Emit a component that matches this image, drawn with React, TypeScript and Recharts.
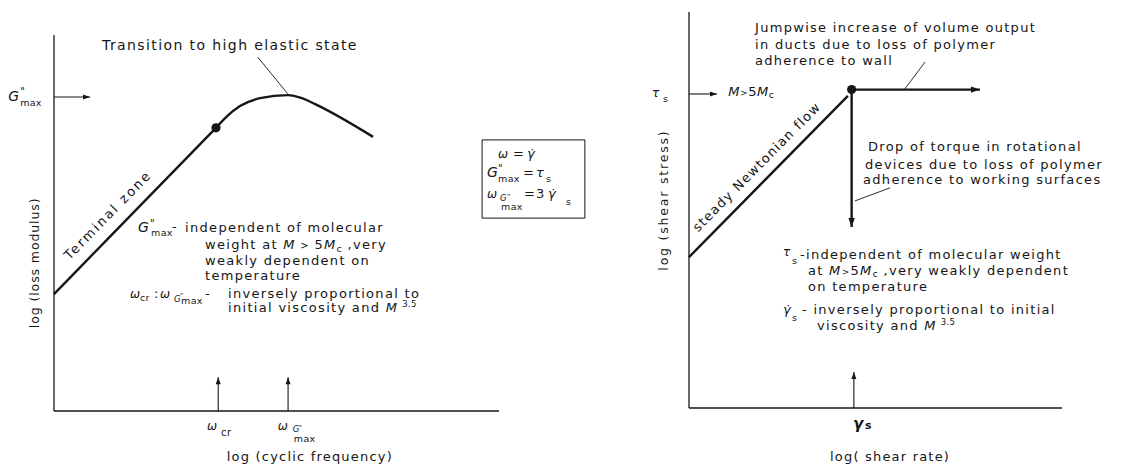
import React from 'react';
import { LineChart, Line, XAxis, YAxis, ReferenceLine, ReferenceDot, ReferenceArea } from 'recharts';

const INK = '#161616';
const FONT = '"DejaVu Sans", "Liberation Sans", sans-serif';
const GDOT = '\u03B3\u0307';

// Left panel: log(loss modulus) vs log(cyclic frequency), schematic units 0..100
const terminalZone = [
  { x: 0, y: 31.1 },
  { x: 36.4, y: 75.3 },
];
const transitionCurve = [
  { x: 36.4, y: 75.3 },
  { x: 38.8, y: 78.3 },
  { x: 41.8, y: 81.1 },
  { x: 46.3, y: 83.2 },
  { x: 52.6, y: 84.0 },
  { x: 55.7, y: 83.2 },
  { x: 58.7, y: 81.6 },
  { x: 71.7, y: 72.9 },
];
const transitionPoint = { x: 36.4, y: 75.3 };
const omegaCr = 36.9;
const omegaGmax = 52.6;
const gMaxLevel = 83.5;

// Right panel: log(shear stress) vs log(shear rate)
const newtonianFlow = [
  { x: 0, y: 38.1 },
  { x: 42.6, y: 78.8 },
];
const slipPoint = { x: 43.6, y: 80.4 };
const volumeJumpTo = 78;
const torqueDropTo = 45.7;
const tauSLevel = 79.3;
const gammaS = 44.2;

const txt = { fontFamily: FONT, fontSize: 13, letterSpacing: 1.3, fill: INK };
const sm = { fontFamily: FONT, fontSize: 9.5, letterSpacing: 0.3, fill: INK };

type Pt = { x: number; y: number };

function head(dir: 'right' | 'up' | 'down', len: number, half: number) {
  return (p: any) => {
    const { cx, cy } = p;
    const pts =
      dir === 'right'
        ? `${cx},${cy} ${cx - len},${cy - half} ${cx - len},${cy + half}`
        : dir === 'up'
        ? `${cx},${cy} ${cx - half},${cy + len} ${cx + half},${cy + len}`
        : `${cx},${cy} ${cx - half},${cy - len} ${cx + half},${cy - len}`;
    return <polygon points={pts} fill={INK} />;
  };
}

function arrow(key: string, from: Pt, to: Pt, dir: 'right' | 'up' | 'down', w = 1.1, len = 7, half = 2.5) {
  return [
    <ReferenceLine key={key + 'l'} segment={[from, to]} stroke={INK} strokeWidth={w} ifOverflow="visible" />,
    <ReferenceDot key={key + 'h'} x={to.x} y={to.y} r={1} ifOverflow="visible" shape={head(dir, len, half)} />,
  ];
}

function note(key: string, x: number, y: number, draw: (cx: number, cy: number) => React.ReactNode) {
  return (
    <ReferenceDot key={key} x={x} y={y} r={1} ifOverflow="visible" shape={(p: any) => <g>{draw(p.cx, p.cy)}</g>} />
  );
}

function leader(key: string, a: Pt, b: Pt) {
  return <ReferenceLine key={key} segment={[a, b]} stroke={INK} strokeWidth={0.9} ifOverflow="visible" />;
}

function axes() {
  return [
    <XAxis key="xa" type="number" dataKey="x" domain={[0, 100]} hide />,
    <YAxis key="ya" type="number" domain={[0, 100]} hide />,
    <ReferenceLine key="xl" y={0} stroke={INK} strokeWidth={1.3} ifOverflow="visible" />,
    <ReferenceLine key="yl" x={0} stroke={INK} strokeWidth={1.3} ifOverflow="visible" />,
  ];
}

function LossModulusPanel() {
  return (
    <LineChart width={600} height={469} margin={{ top: 35, right: 101, bottom: 58, left: 54 }}>
      {axes()}
      <Line data={terminalZone} dataKey="y" type="linear" stroke={INK} strokeWidth={2.4} dot={false} isAnimationActive={false} />
      <Line data={transitionCurve} dataKey="y" type="monotone" stroke={INK} strokeWidth={2.4} dot={false} isAnimationActive={false} />
      <ReferenceDot x={transitionPoint.x} y={transitionPoint.y} r={4.6} fill={INK} stroke="none" />

      {arrow('gmax', { x: 0, y: gMaxLevel }, { x: 8.1, y: gMaxLevel }, 'right')}
      {arrow('wcr', { x: omegaCr, y: 0 }, { x: omegaCr, y: 9.0 }, 'up')}
      {arrow('wgm', { x: omegaGmax, y: 0 }, { x: omegaGmax, y: 9.0 }, 'up')}
      {leader('ld1', { x: 45.8, y: 94.1 }, { x: 52.5, y: 84.4 })}

      {note('title', 10.8, 96.0, (x, y) => (
        <text x={x} y={y} {...txt} fontSize={14} letterSpacing={1.4}>Transition to high elastic state</text>
      ))}
      {note('gmaxlbl', -10.3, 82.4, (x, y) => (
        <g>
          <text x={x} y={y} {...txt} fontSize={14} fontStyle="italic">G</text>
          <text x={x + 12} y={y - 6} {...sm} fontSize={10}>"</text>
          <text x={x + 12} y={y + 5} {...sm}>max</text>
        </g>
      ))}
      {note('terminal', 12.8, 51.3, (x, y) => (
        <text x={x} y={y} {...txt} letterSpacing={2.2} textAnchor="middle" transform={`rotate(-45.7 ${x} ${y})`}>Terminal zone</text>
      ))}
      {note('blk1', 18.9, 47.6, (x, y) => (
        <g>
          <text x={x} y={y} {...txt} fontSize={14} fontStyle="italic">G</text>
          <text x={x + 12} y={y - 5} {...sm} fontSize={10}>"</text>
          <text x={x + 13} y={y + 4} {...sm}>max</text>
          <text x={x + 34} y={y - 1} {...txt}>-</text>
          <text x={x + 47} y={y} {...txt}>independent of molecular</text>
          <text x={x + 67} y={y + 17} {...txt}>
            weight at <tspan fontStyle="italic">M</tspan>
            <tspan fontSize={10}>{' > '}</tspan>5<tspan fontStyle="italic">M</tspan>
            <tspan {...sm} dy={3}>c</tspan>
            <tspan dy={-3}>{' ,very'}</tspan>
          </text>
          <text x={x + 67} y={y + 33} {...txt}>weakly dependent on</text>
          <text x={x + 67} y={y + 48} {...txt}>temperature</text>
        </g>
      ))}
      {note('blk2', 17.1, 30.1, (x, y) => (
        <g>
          <text x={x} y={y} {...txt} fontSize={12} fontStyle="italic">ω</text>
          <text x={x + 10} y={y + 3} {...sm}>cr</text>
          <text x={x + 24} y={y} {...txt}>:</text>
          <text x={x + 30} y={y} {...txt} fontSize={12} fontStyle="italic">ω</text>
          <text x={x + 44} y={y + 4} {...sm} fontSize={8.5} fontStyle="italic">G</text>
          <text x={x + 50} y={y} {...sm} fontSize={7}>"</text>
          <text x={x + 51} y={y + 6} {...sm}>max</text>
          <text x={x + 75} y={y} {...txt}>-</text>
          <text x={x + 98} y={y} {...txt}>inversely proportional to</text>
          <text x={x + 98} y={y + 14} {...txt}>
            initial viscosity and <tspan fontStyle="italic">M</tspan>
            <tspan {...sm} fontSize={8.5} dx={4} dy={-5}>3.5</tspan>
          </text>
        </g>
      ))}
      {note('wcrlbl', 34.4, -5.1, (x, y) => (
        <g>
          <text x={x} y={y} {...txt} fontSize={12} fontStyle="italic">ω</text>
          <text x={x + 14} y={y + 6} {...sm} fontSize={10}>cr</text>
        </g>
      ))}
      {note('wgmlbl', 50.3, -5.1, (x, y) => (
        <g>
          <text x={x} y={y} {...txt} fontSize={12} fontStyle="italic">ω</text>
          <text x={x + 15} y={y + 2} {...sm} fontSize={8.5} fontStyle="italic">G</text>
          <text x={x + 21} y={y} {...sm} fontSize={7}>"</text>
          <text x={x + 16} y={y + 12} {...sm}>max</text>
        </g>
      ))}
      {note('xt', 57.5, -13.3, (x, y) => (
        <text x={x} y={y} {...txt} fontSize={13} letterSpacing={1.2} textAnchor="middle">log (cyclic frequency)</text>
      ))}
      {note('yt', -3.4, 39.4, (x, y) => (
        <text x={x} y={y} {...txt} fontSize={12.5} letterSpacing={0.9} textAnchor="middle" transform={`rotate(-90 ${x} ${y})`}>log (loss modulus)</text>
      ))}

      <ReferenceArea x1={96.2} x2={119.3} y1={51.3} y2={72.1} fill="none" stroke={INK} strokeWidth={1} ifOverflow="visible" />
      {note('box', 99.8, 67.3, (x, y) => (
        <g>
          <text x={x} y={y} {...txt} fontSize={12} fontStyle="italic">ω</text>
          <text x={x + 15} y={y} {...txt}>=</text>
          <text x={x + 29} y={y} {...txt} fontStyle="italic">{GDOT}</text>
          <text x={x - 11} y={y + 19} {...txt} fontSize={14} fontStyle="italic">G</text>
          <text x={x} y={y + 14} {...sm} fontSize={10}>"</text>
          <text x={x} y={y + 24} {...sm}>max</text>
          <text x={x + 25} y={y + 19} {...txt}>=</text>
          <text x={x + 38} y={y + 19} {...txt} fontStyle="italic">τ</text>
          <text x={x + 48} y={y + 24} {...sm}>s</text>
          <text x={x - 11} y={y + 40} {...txt} fontSize={12} fontStyle="italic">ω</text>
          <text x={x + 2} y={y + 43} {...sm} fontSize={8.5} fontStyle="italic">G</text>
          <text x={x + 9} y={y + 41} {...sm} fontSize={7}>"</text>
          <text x={x + 3} y={y + 52} {...sm}>max</text>
          <text x={x + 26} y={y + 40} {...txt}>=</text>
          <text x={x + 38} y={y + 40} {...txt}>3</text>
          <text x={x + 50} y={y + 40} {...txt} fontStyle="italic">{GDOT}</text>
          <text x={x + 68} y={y + 47} {...sm}>s</text>
        </g>
      ))}
    </LineChart>
  );
}

function ShearStressPanel() {
  return (
    <LineChart width={523} height={469} margin={{ top: 12, right: 61, bottom: 61, left: 89 }}>
      {axes()}
      <Line data={newtonianFlow} dataKey="y" type="linear" stroke={INK} strokeWidth={2.4} dot={false} isAnimationActive={false} />
      <ReferenceDot x={slipPoint.x} y={slipPoint.y} r={4.6} fill={INK} stroke="none" />

      {arrow('jump', slipPoint, { x: volumeJumpTo, y: slipPoint.y }, 'right', 2.4, 9, 3.2)}
      {arrow('drop', slipPoint, { x: slipPoint.x, y: torqueDropTo }, 'down', 2.4, 9, 3.2)}
      {arrow('taus', { x: 0, y: tauSLevel }, { x: 7.5, y: tauSLevel }, 'right')}
      {arrow('gs', { x: gammaS, y: 0 }, { x: gammaS, y: 9.1 }, 'up')}
      {leader('ld2', { x: 57.9, y: 80.6 }, { x: 63.3, y: 87.4 })}
      {leader('ld3', { x: 44.5, y: 52.3 }, { x: 53.9, y: 55.6 })}

      {note('tauslbl', -9.9, 78.5, (x, y) => (
        <g>
          <text x={x} y={y} {...txt} fontSize={12} fontStyle="italic">τ</text>
          <text x={x + 11} y={y + 5} {...sm}>s</text>
        </g>
      ))}
      {note('mlbl', 10.5, 78.8, (x, y) => (
        <text x={x} y={y} {...txt} letterSpacing={0.6}>
          <tspan fontStyle="italic">M</tspan>
          <tspan fontSize={9}>{'>'}</tspan>5<tspan fontStyle="italic">M</tspan>
          <tspan {...sm} dy={2}>c</tspan>
        </text>
      ))}
      {note('jumptxt', 17.7, 94.9, (x, y) => (
        <g>
          <text x={x} y={y} {...txt}>Jumpwise increase of volume output</text>
          <text x={x} y={y + 17} {...txt}>in ducts due to loss of polymer</text>
          <text x={x} y={y + 33} {...txt}>adherence to wall</text>
        </g>
      ))}
      {note('droptxt', 48.0, 64.9, (x, y) => (
        <g>
          <text x={x} y={y} {...txt}>Drop of torque in rotational</text>
          <text x={x - 3} y={y + 18} {...txt}>devices due to loss of polymer</text>
          <text x={x - 5} y={y + 33} {...txt}>adherence to working surfaces</text>
        </g>
      ))}
      {note('steady', 19.0, 60.1, (x, y) => (
        <text x={x} y={y} {...txt} textAnchor="middle" transform={`rotate(-45.3 ${x} ${y})`}>steady Newtonian flow</text>
      ))}
      {note('blk3', 25.2, 37.6, (x, y) => (
        <g>
          <text x={x} y={y - 3} {...txt} fontSize={12} fontStyle="italic">τ</text>
          <text x={x + 9} y={y + 5} {...sm}>s</text>
          <text x={x + 17} y={y} {...txt}>-independent of molecular weight</text>
          <text x={x + 25} y={y + 16} {...txt}>
            at <tspan fontStyle="italic">M</tspan>
            <tspan fontSize={9}>{'>'}</tspan>5<tspan fontStyle="italic">M</tspan>
            <tspan {...sm} dy={2}>c</tspan>
            <tspan dy={-2}>{' ,very weakly dependent'}</tspan>
          </text>
          <text x={x + 25} y={y + 32} {...txt}>on temperature</text>
          <text x={x} y={y + 55} {...txt} fontStyle="italic">{GDOT}</text>
          <text x={x + 9} y={y + 62} {...sm}>s</text>
          <text x={x + 19} y={y + 55} {...txt}>- inversely proportional to initial</text>
          <text x={x + 34} y={y + 71} {...txt}>
            viscosity and <tspan fontStyle="italic">M</tspan>
            <tspan {...sm} fontSize={8.5} dx={4} dy={-5}>3.5</tspan>
          </text>
        </g>
      ))}
      {note('gslbl', 44.0, -5.3, (x, y) => (
        <g>
          <text x={x} y={y} {...txt} fontSize={15} fontWeight="bold" fontStyle="italic">γ</text>
          <text x={x + 12} y={y} {...txt} fontSize={11} fontWeight="bold">s</text>
        </g>
      ))}
      {note('xt2', 53.9, -13.4, (x, y) => (
        <text x={x} y={y} {...txt} letterSpacing={1.2} textAnchor="middle">log( shear rate)</text>
      ))}
      {note('yt2', -5.6, 52.5, (x, y) => (
        <text x={x} y={y} {...txt} fontSize={12.5} letterSpacing={1.8} textAnchor="middle" transform={`rotate(-90 ${x} ${y})`}>log (shear stress)</text>
      ))}
    </LineChart>
  );
}

export default function App() {
  return (
    <div style={{ position: 'absolute', left: 0, top: 0, width: 1123, height: 469, background: '#fff' }}>
      <div style={{ position: 'absolute', left: 0, top: 0 }}>
        <LossModulusPanel />
      </div>
      <div style={{ position: 'absolute', left: 600, top: 0 }}>
        <ShearStressPanel />
      </div>
    </div>
  );
}
